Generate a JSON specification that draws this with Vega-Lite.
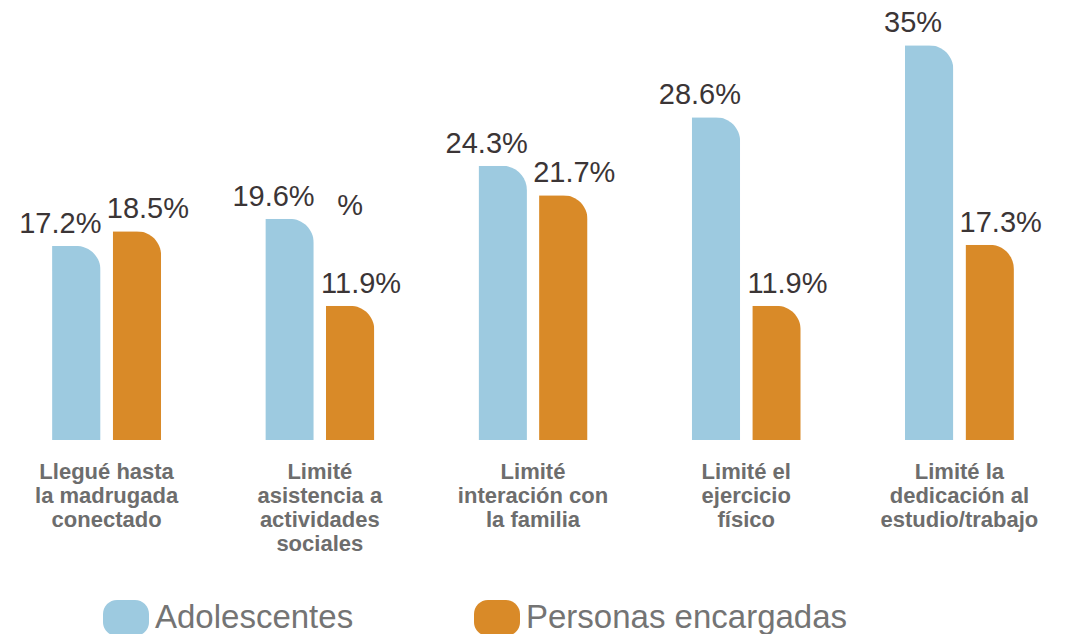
{
  "$schema": "https://vega.github.io/schema/vega-lite/v6.json",
  "width": 1066,
  "height": 440,
  "autosize": {"type": "none"},
  "padding": {"left": 0, "top": 0, "right": 0, "bottom": 194},
  "background": "white",
  "config": {"view": {"stroke": null}, "font": "Liberation Sans"},
  "datasets": {
    "valores": [
      {"categoria": "Llegué hasta la madrugada conectado", "grupo": "Adolescentes", "valor": 17.2, "etiqueta": "17.2%"},
      {"categoria": "Llegué hasta la madrugada conectado", "grupo": "Personas encargadas", "valor": 18.5, "etiqueta": "18.5%"},
      {"categoria": "Limité asistencia a actividades sociales", "grupo": "Adolescentes", "valor": 19.6, "etiqueta": "19.6%"},
      {"categoria": "Limité asistencia a actividades sociales", "grupo": "Personas encargadas", "valor": 11.9, "etiqueta": "11.9%"},
      {"categoria": "Limité interación con la familia", "grupo": "Adolescentes", "valor": 24.3, "etiqueta": "24.3%"},
      {"categoria": "Limité interación con la familia", "grupo": "Personas encargadas", "valor": 21.7, "etiqueta": "21.7%"},
      {"categoria": "Limité el ejercicio físico", "grupo": "Adolescentes", "valor": 28.6, "etiqueta": "28.6%"},
      {"categoria": "Limité el ejercicio físico", "grupo": "Personas encargadas", "valor": 11.9, "etiqueta": "11.9%"},
      {"categoria": "Limité la dedicación al estudio/trabajo", "grupo": "Adolescentes", "valor": 35, "etiqueta": "35%"},
      {"categoria": "Limité la dedicación al estudio/trabajo", "grupo": "Personas encargadas", "valor": 17.3, "etiqueta": "17.3%"}
    ],
    "anotaciones": [
      {"categoria": "Limité asistencia a actividades sociales", "grupo": "Personas encargadas", "valor": 19.9, "etiqueta": "%"}
    ]
  },
  "encoding": {
    "x": {
      "field": "categoria",
      "type": "nominal",
      "sort": null,
      "scale": {"paddingInner": 0, "paddingOuter": 0},
      "axis": {
        "title": null,
        "domain": false,
        "ticks": false,
        "labelAngle": 0,
        "labelPadding": 21,
        "labelFontSize": 22,
        "labelLineHeight": 24,
        "labelColor": "#6d6d6d",
        "labelFontWeight": "bold",
        "labelBaseline": "top",
        "labelLimit": 0,
        "labelExpr": "datum.value == 'Llegué hasta la madrugada conectado' ? ['Llegué hasta', 'la madrugada', 'conectado'] : datum.value == 'Limité asistencia a actividades sociales' ? ['Limité', 'asistencia a', 'actividades', 'sociales'] : datum.value == 'Limité interación con la familia' ? ['Limité', 'interación con', 'la familia'] : datum.value == 'Limité el ejercicio físico' ? ['Limité el', 'ejercicio', 'físico'] : ['Limité la', 'dedicación al', 'estudio/trabajo']"
      }
    },
    "xOffset": {
      "field": "grupo",
      "type": "nominal",
      "sort": ["Adolescentes", "Personas encargadas"],
      "scale": {"paddingInner": 0.2, "paddingOuter": 0.86}
    }
  },
  "layer": [
    {
      "data": {"name": "valores"},
      "mark": {"type": "bar", "cornerRadiusTopRight": 33},
      "encoding": {
        "y": {"field": "valor", "type": "quantitative", "scale": {"domain": [0, 39]}, "axis": null},
        "color": {
          "field": "grupo",
          "type": "nominal",
          "sort": ["Adolescentes", "Personas encargadas"],
          "scale": {"domain": ["Adolescentes", "Personas encargadas"], "range": ["#9dcae0", "#d98a28"]},
          "legend": {
            "title": null,
            "orient": "none",
            "legendX": 106,
            "legendY": 598,
            "direction": "horizontal",
            "symbolType": "M-0.45,-0.9H0.45A0.7,0.7 0 0 1 1.15,-0.2V0.2A0.7,0.7 0 0 1 0.45,0.9H-0.45A0.7,0.7 0 0 1 -1.15,0.2V-0.2A0.7,0.7 0 0 1 -0.45,-0.9Z",
            "symbolSize": 1600,
            "symbolOpacity": 1,
            "symbolStrokeWidth": 0,
            "labelFontSize": 33,
            "labelColor": "#747474",
            "labelOffset": 9,
            "labelLimit": 0,
            "columnPadding": 120
          }
        }
      }
    },
    {
      "data": {"name": "valores"},
      "transform": [{"filter": "datum.grupo == 'Adolescentes'"}],
      "mark": {"type": "text", "baseline": "alphabetic", "dy": -13, "dx": -16, "fontSize": 29, "color": "#3b3536"},
      "encoding": {
        "y": {"field": "valor", "type": "quantitative", "scale": {"domain": [0, 39]}},
        "text": {"field": "etiqueta"}
      }
    },
    {
      "data": {"name": "valores"},
      "transform": [{"filter": "datum.grupo == 'Personas encargadas'"}],
      "mark": {"type": "text", "baseline": "alphabetic", "dy": -13, "dx": 11, "fontSize": 29, "color": "#3b3536"},
      "encoding": {
        "y": {"field": "valor", "type": "quantitative", "scale": {"domain": [0, 39]}},
        "text": {"field": "etiqueta"}
      }
    },
    {
      "data": {"name": "anotaciones"},
      "mark": {"type": "text", "baseline": "alphabetic", "fontSize": 29, "color": "#3b3536"},
      "encoding": {
        "y": {"field": "valor", "type": "quantitative", "scale": {"domain": [0, 39]}},
        "text": {"field": "etiqueta"}
      }
    }
  ]
}
